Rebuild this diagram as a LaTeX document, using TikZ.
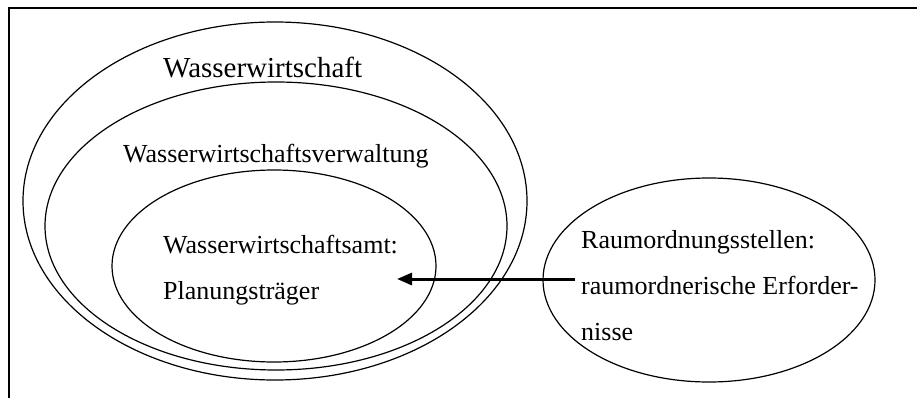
\documentclass[tikz,border=0pt]{standalone}
\usepackage{fontspec}
\setmainfont{Liberation Serif}
\usetikzlibrary{shapes.geometric,arrows.meta}

\tikzset{
  oval/.style={ellipse, draw, line width=1.2pt, inner sep=0pt},
  bigtext/.style={anchor=base west, inner sep=0pt, font=\fontsize{29}{34}\selectfont},
  label/.style={anchor=base west, inner sep=0pt, font=\fontsize{26}{30}\selectfont},
  frame/.style={line width=1.4pt},
  flow/.style={line width=3pt, -{Triangle[length=15pt,width=12pt]}}
}

\begin{document}
\begin{tikzpicture}[x=1pt, y=-1pt]
  \useasboundingbox (0,0) rectangle (917,398);

  % open frame: top and left edges
  \coordinate (fr) at (917,8);
  \coordinate (fc) at (9,8);
  \coordinate (fb) at (9,398);
  \draw[frame] (fr) -- (fc) -- (fb);

  % nested ellipses
  \node[oval, minimum width=504pt, minimum height=358pt] (ww) at (275,201) {};
  \node[oval, minimum width=462pt, minimum height=288pt] (wwv) at (276,226) {};
  \node[oval, minimum width=324pt, minimum height=192pt] (wwa) at (274,266) {};
  \node[oval, minimum width=332pt, minimum height=204pt] (ro) at (709,280) {};

  % texts
  \node[bigtext] (t1) at (163,78) {Wasserwirtschaft};
  \node[label] (t2) at (123,163) {Wasserwirtschaftsverwaltung};
  \node[label] (t3) at (163,253) {Wasserwirtschaftsamt:};
  \node[label] (t4) at (163,299) {Planungsträger};
  \node[label] (t5) at (581,248) {Raumordnungsstellen:};
  \node[label] (t6) at (581,294) {raumordnerische Erforder-};
  \node[label] (t7) at (581,340) {nisse};

  % arrow from the planning offices to the water authority
  \coordinate (src) at (575,279);
  \coordinate (dst) at (397,279);
  \draw[flow] (src) -- (dst);
\end{tikzpicture}
\end{document}
